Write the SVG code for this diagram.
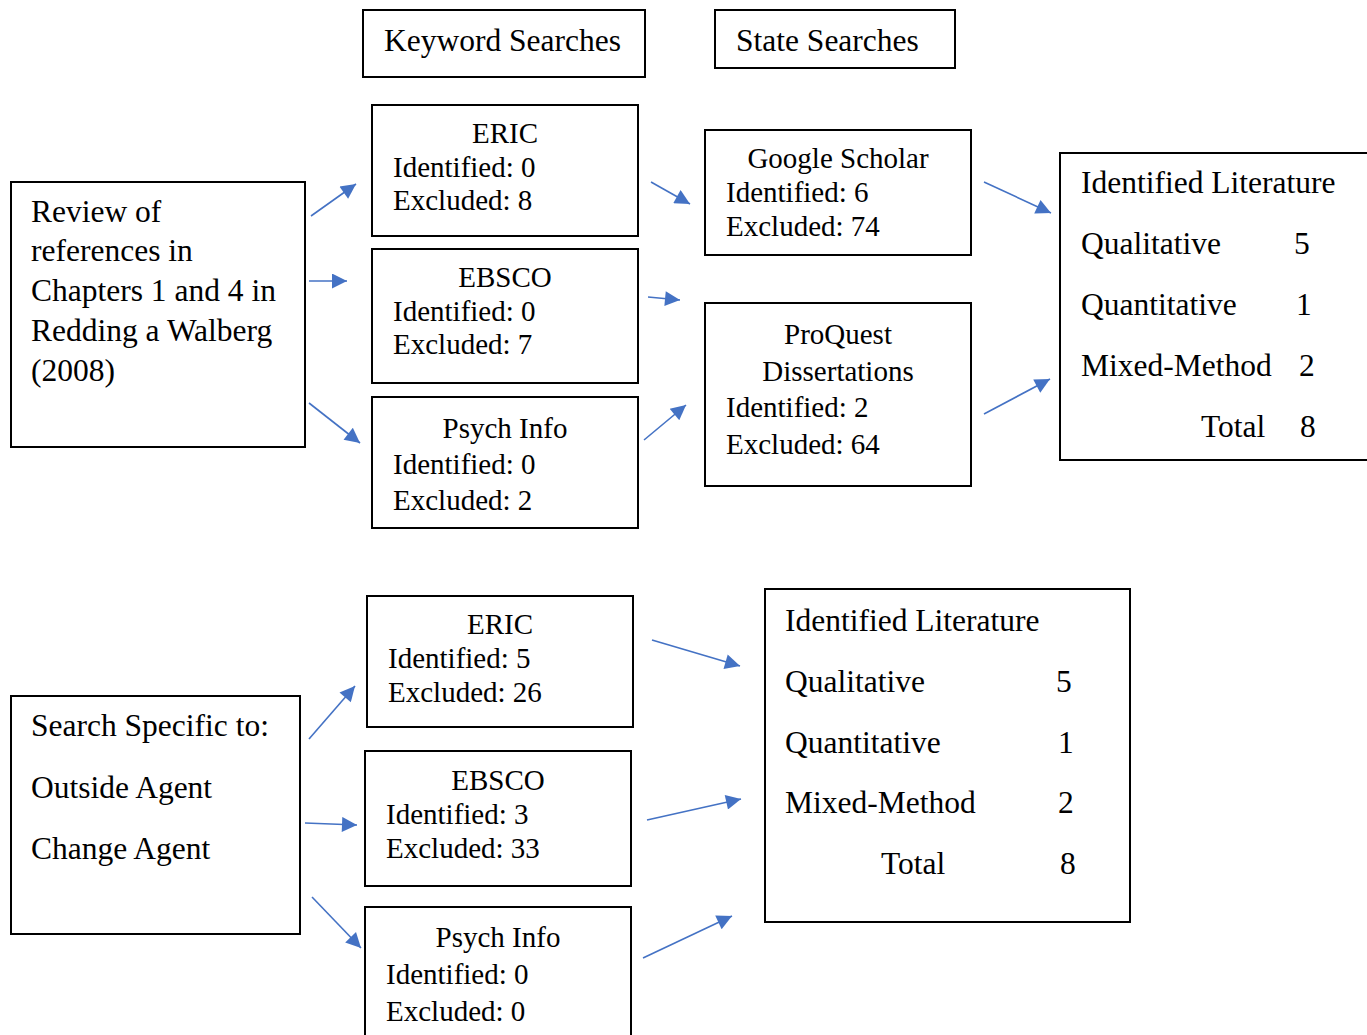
<svg xmlns="http://www.w3.org/2000/svg" width="1367" height="1035" viewBox="0 0 1367 1035">
<defs>
<marker id="ah" viewBox="0 0 10 10" refX="10" refY="5" markerWidth="18" markerHeight="15" markerUnits="userSpaceOnUse" orient="auto">
<path d="M0,0 L10,5 L0,10 z" fill="#4472C4"/>
</marker>
<style>
.b{fill:#fff;stroke:#000;stroke-width:2}
text{font-family:"Liberation Serif","Times New Roman",serif;fill:#000}
.s{font-size:29px}
.l{font-size:31.5px}
.c{text-anchor:middle}
.ar{stroke:#4472C4;stroke-width:1.6;fill:none;marker-end:url(#ah)}
</style>
</defs>
<rect width="1367" height="1035" fill="#fff"/>

<g id="keyword-searches"><rect class="b" x="363" y="10" width="282" height="67"/><text class="l" x="384" y="51">Keyword Searches</text></g>
<g id="state-searches"><rect class="b" x="715" y="10" width="240" height="58"/><text class="l" x="736" y="51">State Searches</text></g>

<g id="review"><rect class="b" x="11" y="182" width="294" height="265"/>
<text class="l" x="31" y="222">Review of</text>
<text class="l" x="31" y="261">references in</text>
<text class="l" x="31" y="301">Chapters 1 and 4 in</text>
<text class="l" x="31" y="341">Redding a Walberg</text>
<text class="l" x="31" y="381">(2008)</text></g>

<g id="eric1"><rect class="b" x="372" y="105" width="266" height="131"/>
<text class="s c" x="505" y="143">ERIC</text>
<text class="s" x="393" y="177">Identified: 0</text>
<text class="s" x="393" y="210">Excluded: 8</text></g>

<g id="ebsco1"><rect class="b" x="372" y="249" width="266" height="134"/>
<text class="s c" x="505" y="287">EBSCO</text>
<text class="s" x="393" y="321">Identified: 0</text>
<text class="s" x="393" y="354">Excluded: 7</text></g>

<g id="psych1"><rect class="b" x="372" y="397" width="266" height="131"/>
<text class="s c" x="505" y="438">Psych Info</text>
<text class="s" x="393" y="474">Identified: 0</text>
<text class="s" x="393" y="510">Excluded: 2</text></g>

<g id="google"><rect class="b" x="705" y="130" width="266" height="125"/>
<text class="s c" x="838" y="168">Google Scholar</text>
<text class="s" x="726" y="202">Identified: 6</text>
<text class="s" x="726" y="236">Excluded: 74</text></g>

<g id="proquest"><rect class="b" x="705" y="303" width="266" height="183"/>
<text class="s c" x="838" y="344">ProQuest</text>
<text class="s c" x="838" y="381">Dissertations</text>
<text class="s" x="726" y="417">Identified: 2</text>
<text class="s" x="726" y="454">Excluded: 64</text></g>

<g id="lit1"><rect class="b" x="1060" y="153" width="320" height="307"/>
<text class="l" x="1081" y="193">Identified Literature</text>
<text class="l" x="1081" y="254">Qualitative</text><text class="l" x="1294" y="254">5</text>
<text class="l" x="1081" y="315">Quantitative</text><text class="l" x="1296" y="315">1</text>
<text class="l" x="1081" y="376">Mixed-Method</text><text class="l" x="1299" y="376">2</text>
<text class="l" x="1201" y="437">Total</text><text class="l" x="1300" y="437">8</text></g>

<g id="search-specific"><rect class="b" x="11" y="696" width="289" height="238"/>
<text class="l" x="31" y="736">Search Specific to:</text>
<text class="l" x="31" y="798">Outside Agent</text>
<text class="l" x="31" y="859">Change Agent</text></g>

<g id="eric2"><rect class="b" x="367" y="596" width="266" height="131"/>
<text class="s c" x="500" y="634">ERIC</text>
<text class="s" x="388" y="668">Identified: 5</text>
<text class="s" x="388" y="702">Excluded: 26</text></g>

<g id="ebsco2"><rect class="b" x="365" y="751" width="266" height="135"/>
<text class="s c" x="498" y="790">EBSCO</text>
<text class="s" x="386" y="824">Identified: 3</text>
<text class="s" x="386" y="858">Excluded: 33</text></g>

<g id="psych2"><rect class="b" x="365" y="907" width="266" height="140"/>
<text class="s c" x="498" y="947">Psych Info</text>
<text class="s" x="386" y="984">Identified: 0</text>
<text class="s" x="386" y="1021">Excluded: 0</text></g>

<g id="lit2"><rect class="b" x="765" y="589" width="365" height="333"/>
<text class="l" x="785" y="631">Identified Literature</text>
<text class="l" x="785" y="692">Qualitative</text><text class="l" x="1056" y="692">5</text>
<text class="l" x="785" y="753">Quantitative</text><text class="l" x="1058" y="753">1</text>
<text class="l" x="785" y="813">Mixed-Method</text><text class="l" x="1058" y="813">2</text>
<text class="l" x="881" y="874">Total</text><text class="l" x="1060" y="874">8</text></g>

<g id="connectors">
<line class="ar" x1="311" y1="216" x2="356" y2="184"/>
<line class="ar" x1="309" y1="281" x2="347" y2="281"/>
<line class="ar" x1="309" y1="403" x2="360" y2="443"/>
<line class="ar" x1="651" y1="182" x2="690" y2="204"/>
<line class="ar" x1="648" y1="297" x2="680" y2="300"/>
<line class="ar" x1="644" y1="440" x2="686" y2="405"/>
<line class="ar" x1="984" y1="182" x2="1051" y2="213"/>
<line class="ar" x1="984" y1="414" x2="1050" y2="379"/>
<line class="ar" x1="309" y1="739" x2="355" y2="686"/>
<line class="ar" x1="305" y1="823" x2="357" y2="825"/>
<line class="ar" x1="312" y1="897" x2="361" y2="948"/>
<line class="ar" x1="652" y1="640" x2="740" y2="666"/>
<line class="ar" x1="647" y1="820" x2="741" y2="799"/>
<line class="ar" x1="643" y1="958" x2="732" y2="916"/>
</g>
</svg>
